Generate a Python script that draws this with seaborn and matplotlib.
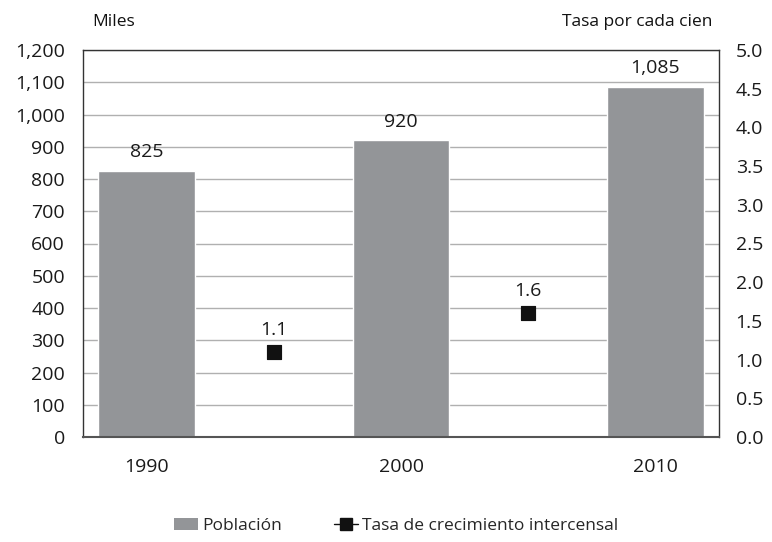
import numpy as np
import pandas as pd
import seaborn as sns
import matplotlib.pyplot as plt
from matplotlib.lines import Line2D
from matplotlib.patches import Patch

# -------------------- Data --------------------
years = ['1990', '2000', '2010']
poblacion = [825, 920, 1085]          # miles
tasa = [1.1, 1.6]                      # tasa de crecimiento intercensal
tasa_labels = ['1.1', '1.6']

bar_color = '#939598'

# -------------------- Figure --------------------
sns.set_style('white')
plt.rcParams['font.family'] = ['Open Sans', 'DejaVu Sans']
plt.rcParams['font.size'] = 13

fig = plt.figure(figsize=(7.72, 5.42), dpi=100)
ax = fig.add_axes([83 / 772, 1 - 437 / 542, 636 / 772, 387 / 542])

df = pd.DataFrame({'year': years, 'poblacion': poblacion})
sns.barplot(data=df, x='year', y='poblacion', color=bar_color, width=0.38,
            saturation=1, ax=ax, zorder=2)

ax.set_xlim(-0.25, 2.25)
ax.set_ylim(0, 1200)
ax.set_yticks(range(0, 1201, 100))
ax.set_yticklabels([f'{v:,}' for v in range(0, 1201, 100)])
ax.yaxis.grid(True, color='#b0b0b0', linewidth=1, zorder=0)
ax.set_axisbelow(True)
ax.set_xlabel('')
ax.set_ylabel('')
ax.tick_params(axis='x', length=0, pad=15, labelsize=14, labelcolor='#1a1a1a')
ax.tick_params(axis='y', length=0, pad=13, labelsize=14, labelcolor='#1a1a1a')

for spine in ['top', 'left', 'right']:
    ax.spines[spine].set_color('#333333')
    ax.spines[spine].set_linewidth(1)
ax.spines['bottom'].set_color('#555555')
ax.spines['bottom'].set_linewidth(1.5)

for i, v in enumerate(poblacion):
    ax.text(i, v + 30, f'{v:,}', ha='center', va='bottom', fontsize=14, color='#1a1a1a')

# -------------------- Secondary axis --------------------
ax2 = ax.twinx()
mid = [(i + i + 1) / 2 for i in range(len(years) - 1)]
sns.scatterplot(x=mid, y=tasa, marker='s', s=110, color='#111111', ax=ax2,
                edgecolor='#111111', zorder=3)
ax2.set_ylim(0, 5)
ax2.set_yticks(np.arange(0, 5.01, 0.5))
ax2.set_yticklabels([f'{v:.1f}' for v in np.arange(0, 5.01, 0.5)])
ax2.tick_params(axis='y', length=0, pad=12, labelsize=14, labelcolor='#1a1a1a')
for spine in ax2.spines.values():
    spine.set_visible(False)

for x, v, lab in zip(mid, tasa, tasa_labels):
    ax2.text(x, v + 0.17, lab, ha='center', va='bottom', fontsize=14, color='#1a1a1a')

# -------------------- Axis titles --------------------
fig.text(92 / 772, 1 - 22 / 542, 'Miles', ha='left', va='center', fontsize=12.5,
         color='#111111')
fig.text(712 / 772, 1 - 22 / 542, 'Tasa por cada cien', ha='right', va='center',
         fontsize=12.5, color='#111111')

# -------------------- Legend --------------------
handles = [
    Patch(facecolor=bar_color, edgecolor='none'),
    Line2D([0], [0], color='#111111', linewidth=1, marker='s', markersize=9),
]
fig.legend(handles, ['Población', 'Tasa de crecimiento intercensal'],
           loc='center', bbox_to_anchor=(396 / 772, 1 - 526 / 542), ncol=2, frameon=False,
           fontsize=12.5, handlelength=1.4, handletextpad=0.2, columnspacing=3.0)

fig.savefig('out.png', dpi=100)
